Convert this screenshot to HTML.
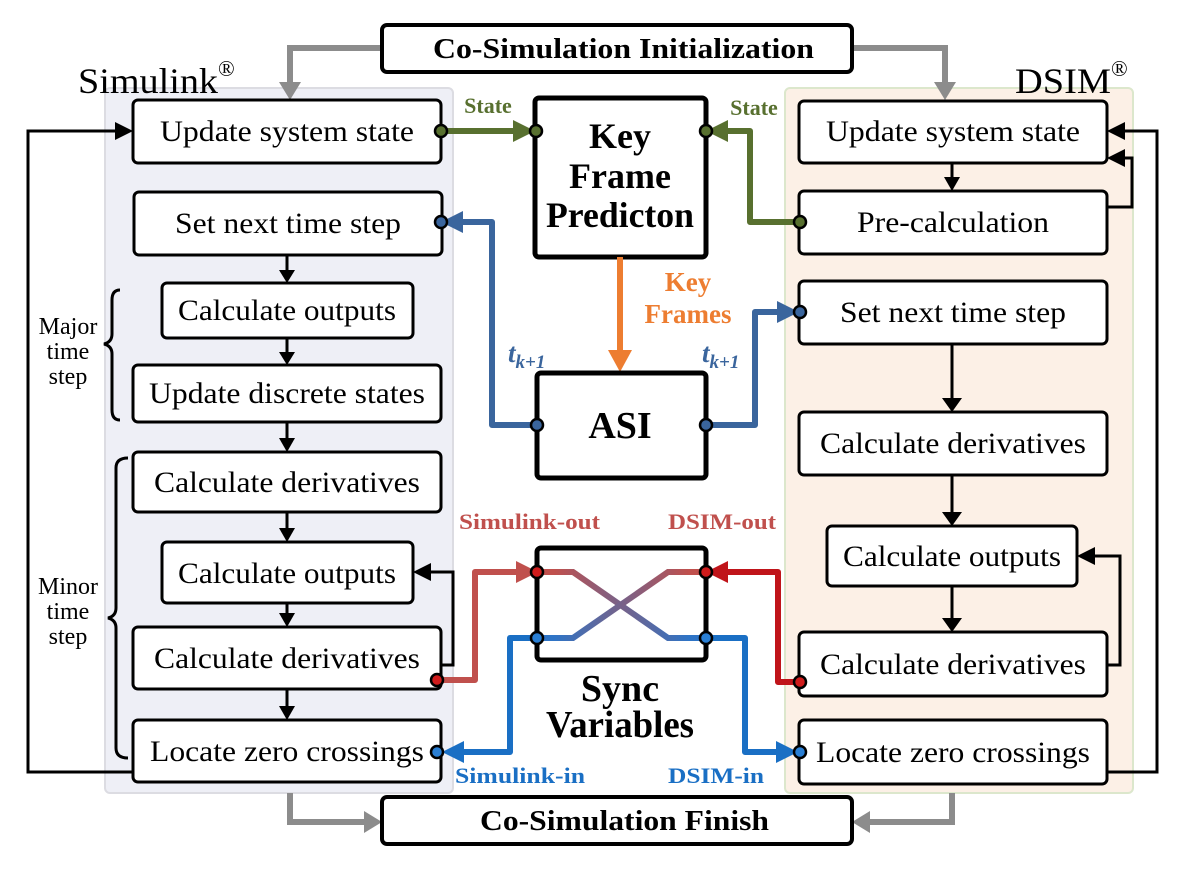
<!DOCTYPE html>
<html><head><meta charset="utf-8"><style>
html,body{margin:0;padding:0;background:#fff}
svg{display:block}
text{font-family:"Liberation Serif",serif}
</style></head><body>
<svg width="1192" height="896" viewBox="0 0 1192 896" xmlns="http://www.w3.org/2000/svg">
<defs>
<linearGradient id="g1" x1="0" y1="0" x2="1" y2="0"><stop offset="0.1" stop-color="#c0504d"/><stop offset="0.9" stop-color="#2e74c6"/></linearGradient>
<linearGradient id="g2" x1="0" y1="0" x2="1" y2="0"><stop offset="0.1" stop-color="#2e74c6"/><stop offset="0.9" stop-color="#c0504d"/></linearGradient>
</defs>
<!-- panels -->
<rect x="105" y="88" width="348" height="705" rx="5" fill="#eeeff6" stroke="#dcdce2" stroke-width="2"/>
<rect x="785" y="88" width="348" height="705" rx="5" fill="#fcf0e6" stroke="#dce7cc" stroke-width="2"/>
<text x="78" y="93" font-size="36" textLength="140" lengthAdjust="spacingAndGlyphs">Simulink</text><text x="218" y="76" font-size="22">®</text>
<text x="1015" y="93" font-size="36" textLength="96" lengthAdjust="spacingAndGlyphs">DSIM</text><text x="1111" y="76" font-size="22">®</text>
<!-- gray arrows -->
<g stroke="#8c8c8c" stroke-width="6" fill="none">
<path d="M382,48 H290 V84"/><path d="M852,48 H945 V84"/>
<path d="M290,793 V822 H368"/><path d="M952,793 V822 H866"/>
</g>
<g fill="#8c8c8c">
<path d="M279,82 L301,82 L290,100z"/><path d="M934,82 L956,82 L945,100z"/>
<path d="M364,811 L364,833 L382,822z"/><path d="M870,811 L870,833 L852,822z"/>
</g>
<!-- top/bottom boxes -->
<rect x="382" y="25" width="470" height="47" rx="5" fill="#fff" stroke="#000" stroke-width="4"/>
<text x="433" y="58" font-size="29" font-weight="bold" textLength="381" lengthAdjust="spacingAndGlyphs">Co-Simulation Initialization</text>
<rect x="382" y="797" width="470" height="47" rx="5" fill="#fff" stroke="#000" stroke-width="4"/>
<text x="480" y="830" font-size="29" font-weight="bold" textLength="289" lengthAdjust="spacingAndGlyphs">Co-Simulation Finish</text>
<!-- black connectors -->
<g stroke="#000" stroke-width="3" fill="none">
<path d="M287,255 V272"/><path d="M287,338 V354"/><path d="M287,422 V440"/><path d="M287,512 V530"/><path d="M287,603 V615"/><path d="M287,689 V708"/>
<path d="M952,163 V178"/><path d="M952,344 V400"/><path d="M952,475 V514"/><path d="M952,586 V620"/>
<path d="M133,772 H28 V131 H118"/>
<path d="M1107,772 H1157 V131 H1122"/>
<path d="M1107,207 H1132 V158 H1122"/>
<path d="M1107,665 H1120 V556 H1092"/>
<path d="M441,665 H453 V572 H428"/>
<path d="M120,290 q-8,0 -8,10 v34 q0,8 -8,10 q8,2 8,10 v56 q0,10 8,10"/>
<path d="M128,458 q-12,0 -12,10 v140 q0,8 -8,10 q8,2 8,10 v120 q0,10 12,10"/>
</g>
<g fill="#000">
<path d="M279,270 h16 l-8,13z"/><path d="M279,352 h16 l-8,13z"/><path d="M279,438 h16 l-8,14z"/><path d="M279,528 h16 l-8,14z"/><path d="M279,613 h16 l-8,14z"/><path d="M279,706 h16 l-8,14z"/>
<path d="M944,177 h16 l-8,14z"/><path d="M942,398 h20 l-10,14z"/><path d="M942,512 h20 l-10,14z"/><path d="M942,618 h20 l-10,14z"/>
<path d="M115,122 v18 l18,-9z"/><path d="M1125,122 v18 l-18,-9z"/><path d="M1125,149 v18 l-18,-9z"/><path d="M1095,547 v18 l-18,-9z"/><path d="M431,563 v18 l-18,-9z"/>
</g>
<!-- process boxes -->
<g fill="#fff" stroke="#000" stroke-width="3">
<rect x="133" y="100" width="308" height="63" rx="5"/>
<rect x="134" y="192" width="308" height="63" rx="5"/>
<rect x="162" y="283" width="251" height="55" rx="5"/>
<rect x="133" y="365" width="308" height="57" rx="5"/>
<rect x="133" y="452" width="308" height="60" rx="5"/>
<rect x="162" y="542" width="251" height="61" rx="5"/>
<rect x="133" y="627" width="308" height="62" rx="5"/>
<rect x="133" y="720" width="308" height="62" rx="5"/>
<rect x="799" y="101" width="308" height="62" rx="5"/>
<rect x="799" y="191" width="308" height="63" rx="5"/>
<rect x="799" y="281" width="308" height="63" rx="5"/>
<rect x="799" y="412" width="308" height="63" rx="5"/>
<rect x="827" y="526" width="250" height="60" rx="5"/>
<rect x="799" y="632" width="308" height="64" rx="5"/>
<rect x="799" y="720" width="308" height="64" rx="5"/>
</g>
<g font-size="30" text-anchor="middle" lengthAdjust="spacingAndGlyphs">
<text x="287" y="141" textLength="254" lengthAdjust="spacingAndGlyphs">Update system state</text>
<text x="288" y="233" textLength="226" lengthAdjust="spacingAndGlyphs">Set next time step</text>
<text x="287" y="320" textLength="218" lengthAdjust="spacingAndGlyphs">Calculate outputs</text>
<text x="287" y="403" textLength="276" lengthAdjust="spacingAndGlyphs">Update discrete states</text>
<text x="287" y="492" textLength="266" lengthAdjust="spacingAndGlyphs">Calculate derivatives</text>
<text x="287" y="583" textLength="218" lengthAdjust="spacingAndGlyphs">Calculate outputs</text>
<text x="287" y="668" textLength="266" lengthAdjust="spacingAndGlyphs">Calculate derivatives</text>
<text x="287" y="761" textLength="274" lengthAdjust="spacingAndGlyphs">Locate zero crossings</text>
<text x="953" y="141" textLength="254" lengthAdjust="spacingAndGlyphs">Update system state</text>
<text x="953" y="232" textLength="192" lengthAdjust="spacingAndGlyphs">Pre-calculation</text>
<text x="953" y="322" textLength="226" lengthAdjust="spacingAndGlyphs">Set next time step</text>
<text x="953" y="453" textLength="266" lengthAdjust="spacingAndGlyphs">Calculate derivatives</text>
<text x="952" y="566" textLength="218" lengthAdjust="spacingAndGlyphs">Calculate outputs</text>
<text x="953" y="674" textLength="266" lengthAdjust="spacingAndGlyphs">Calculate derivatives</text>
<text x="953" y="762" textLength="274" lengthAdjust="spacingAndGlyphs">Locate zero crossings</text>
</g>
<g font-size="24" text-anchor="middle">
<text x="68" y="334">Major</text><text x="68" y="359">time</text><text x="68" y="384">step</text>
<text x="68" y="594">Minor</text><text x="68" y="619">time</text><text x="68" y="644">step</text>
</g>
<!-- center boxes -->
<rect x="535" y="98" width="171" height="159" rx="4" fill="#fff" stroke="#000" stroke-width="5"/>
<g font-size="36" font-weight="bold" text-anchor="middle">
<text x="620" y="148">Key</text><text x="620" y="188">Frame</text><text x="620" y="227" textLength="148" lengthAdjust="spacingAndGlyphs">Predicton</text>
</g>
<path d="M620,257 V352" stroke="#ed7d31" stroke-width="6"/>
<path d="M608,350 h24 l-12,22z" fill="#ed7d31"/>
<text x="688" y="291" font-size="27" font-weight="bold" fill="#ed7d31" text-anchor="middle">Key</text>
<text x="688" y="323" font-size="27" font-weight="bold" fill="#ed7d31" text-anchor="middle">Frames</text>
<rect x="537" y="373" width="169" height="105" rx="4" fill="#fff" stroke="#000" stroke-width="5"/>
<text x="620" y="438" font-size="38" font-weight="bold" text-anchor="middle">ASI</text>
<rect x="537" y="548" width="169" height="112" rx="4" fill="#fff" stroke="#000" stroke-width="5"/>
<text x="620" y="701" font-size="38" font-weight="bold" text-anchor="middle">Sync</text>
<text x="620" y="737" font-size="38" font-weight="bold" text-anchor="middle" textLength="148" lengthAdjust="spacingAndGlyphs">Variables</text>
<!-- green -->
<g stroke="#58702f" stroke-width="6" fill="none" stroke-linejoin="round">
<path d="M441,131 H517"/><path d="M799,222 H750 V131 H724"/>
</g>
<path d="M513,120 v22 l22,-11z" fill="#58702f"/><path d="M728,120 v22 l-22,-11z" fill="#58702f"/>
<text x="488" y="113" font-size="22" font-weight="bold" fill="#58702f" text-anchor="middle">State</text>
<text x="754" y="115" font-size="22" font-weight="bold" fill="#58702f" text-anchor="middle">State</text>
<!-- blue tk+1 -->
<g stroke="#3a659d" stroke-width="6" fill="none" stroke-linejoin="round">
<path d="M537,425 H492 V222 H460"/><path d="M706,425 H755 V312 H780"/>
</g>
<path d="M463,211 v22 l-22,-11z" fill="#3a659d"/><path d="M777,301 v22 l22,-11z" fill="#3a659d"/>
<text x="508" y="362" font-size="27" font-weight="bold" font-style="italic" fill="#3a659d">t<tspan font-size="19" dy="6">k+1</tspan></text>
<text x="702" y="362" font-size="27" font-weight="bold" font-style="italic" fill="#3a659d">t<tspan font-size="19" dy="6">k+1</tspan></text>
<!-- red -->
<g stroke="#c0504d" stroke-width="6" fill="none" stroke-linejoin="round">
<path d="M437,680 H475 V572 H518"/>
</g>
<path d="M516,561 v22 l22,-11z" fill="#c0504d"/>
<g stroke="#c0141a" stroke-width="6" fill="none" stroke-linejoin="round">
<path d="M800,682 H778 V572 H726"/>
</g>
<path d="M728,561 v22 l-22,-11z" fill="#c0141a"/>
<!-- blue in -->
<g stroke="#1a6fc4" stroke-width="6" fill="none" stroke-linejoin="round">
<path d="M537,638 H510 V752 H462"/><path d="M706,638 H745 V752 H778"/>
</g>
<path d="M464,741 v22 l-22,-11z" fill="#1a6fc4"/><path d="M776,741 v22 l22,-11z" fill="#1a6fc4"/>
<!-- cross -->
<path d="M537,572 H573 L668,638 H706" stroke="url(#g1)" stroke-width="6" fill="none"/>
<path d="M537,638 H573 L668,572 H706" stroke="url(#g2)" stroke-width="6" fill="none"/>
<g font-size="22" font-weight="bold">
<text x="459" y="529" fill="#c0504d" textLength="141" lengthAdjust="spacingAndGlyphs">Simulink-out</text>
<text x="668" y="529" fill="#c0504d" textLength="108" lengthAdjust="spacingAndGlyphs">DSIM-out</text>
<text x="455" y="783" fill="#1a6fc4" textLength="130" lengthAdjust="spacingAndGlyphs">Simulink-in</text>
<text x="668" y="783" fill="#1a6fc4" textLength="96" lengthAdjust="spacingAndGlyphs">DSIM-in</text>
</g>
<!-- dots -->
<g stroke="#000" stroke-width="2.5">
<circle cx="441" cy="131" r="6" fill="#58702f"/><circle cx="536" cy="131" r="6" fill="#58702f"/>
<circle cx="706" cy="131" r="6" fill="#58702f"/><circle cx="800" cy="222" r="6" fill="#58702f"/>
<circle cx="441" cy="222" r="6" fill="#3a659d"/><circle cx="537" cy="425" r="6" fill="#3a659d"/>
<circle cx="706" cy="425" r="6" fill="#3a659d"/><circle cx="800" cy="312" r="6" fill="#3a659d"/>
<circle cx="437" cy="680" r="6" fill="#d01c1c"/><circle cx="537" cy="572" r="6" fill="#d01c1c"/>
<circle cx="706" cy="572" r="6" fill="#d01c1c"/><circle cx="800" cy="682" r="6" fill="#d01c1c"/>
<circle cx="537" cy="638" r="6" fill="#2a7fd4"/><circle cx="706" cy="638" r="6" fill="#2a7fd4"/>
<circle cx="437" cy="752" r="6" fill="#2a7fd4"/><circle cx="800" cy="752" r="6" fill="#2a7fd4"/>
</g>
</svg>
</body></html>
